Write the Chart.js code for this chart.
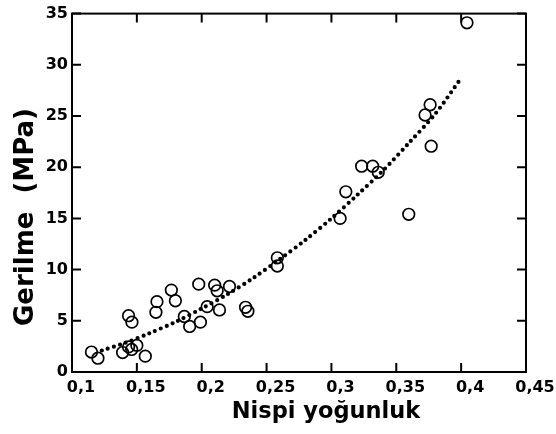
<!DOCTYPE html>
<html>
<head>
<meta charset="utf-8">
<script src="https://cdn.jsdelivr.net/npm/chart.js@4.4.1/dist/chart.umd.min.js"></script>
<style>
  html, body { margin: 0; padding: 0; background: #fff; }
  #wrap { width: 556px; height: 434px; }
</style>
</head>
<body>
<div id="wrap"><canvas id="chart"></canvas></div>
<script>
// measured points (nispi yogunluk, gerilme MPa)
var pointX = [0.115, 0.120, 0.139, 0.1436, 0.146, 0.150, 0.1565, 0.1436, 0.1462, 0.1655, 0.1647, 0.1766,
              0.1797, 0.1866, 0.1907, 0.1977, 0.199, 0.2042, 0.210, 0.2119, 0.2137, 0.2214, 0.2338, 0.2356,
              0.2583, 0.2583, 0.3067, 0.3111, 0.3233, 0.3318, 0.3361, 0.3596, 0.3722, 0.3761, 0.3769, 0.4045];
var pointY = [1.95, 1.35, 1.9, 2.45, 2.2, 2.6, 1.55, 5.5, 4.87, 6.87, 5.83, 8.0,
              6.96, 5.42, 4.45, 8.58, 4.87, 6.38, 8.48, 7.93, 6.06, 8.35, 6.32, 5.93,
              11.15, 10.35, 15.0, 17.6, 20.1, 20.1, 19.5, 15.4, 25.1, 26.1, 22.05, 34.1];

// dotted fit curve
var curveX = [0.123, 0.14, 0.16, 0.18, 0.2, 0.22, 0.24, 0.26, 0.28, 0.3, 0.32, 0.34, 0.36, 0.38, 0.4];
var curveY = [2.1, 2.8, 3.8, 4.9, 6.2, 7.6, 9.2, 11.0, 12.9, 15.0, 17.3, 19.7, 22.4, 25.2, 28.7];

var xTickLabels = ['0,1', '0,15', '0,2', '0,25', '0,3', '0,35', '0,4', '0,45'];
var yTickLabels = ['0', '5', '10', '15', '20', '25', '30', '35'];

var xTitle = 'Nispi yoğunluk';
var yTitle = 'Gerilme  (MPa)';

var pts = [];
for (i = 0; i < pointX.length; i++) {
    pts.push({x: pointX[i], y: pointY[i]});
}
var curve = [];
for (i = 0; i < curveX.length; i++) {
    curve.push({x: curveX[i], y: curveY[i]});
}

// frame, inward ticks on all 4 sides, and the axis titles
var framePlugin = {
    id: 'frame',
    afterDraw: function(chart) {
        var ctx = chart.ctx;
        var a = chart.chartArea;
        var xs = chart.scales.x, ys = chart.scales.y;
        var len = 9;
        ctx.save();
        ctx.strokeStyle = '#000';
        ctx.lineWidth = 2;
        ctx.strokeRect(a.left, a.top, a.right - a.left, a.bottom - a.top);
        ctx.beginPath();
        xs.ticks.forEach(function(t) {
            var px = xs.getPixelForValue(t.value);
            ctx.moveTo(px, a.bottom); ctx.lineTo(px, a.bottom - len);
            ctx.moveTo(px, a.top); ctx.lineTo(px, a.top + len);
        });
        ys.ticks.forEach(function(t) {
            var py = ys.getPixelForValue(t.value);
            ctx.moveTo(a.left, py); ctx.lineTo(a.left + len, py);
            ctx.moveTo(a.right, py); ctx.lineTo(a.right - len, py);
        });
        ctx.stroke();

        ctx.fillStyle = '#000';
        ctx.font = 'bold 22.5px "DejaVu Sans"';
        ctx.textAlign = 'center';
        ctx.textBaseline = 'alphabetic';
        ctx.fillText(xTitle, 326, 418);

        ctx.translate(33, 217);
        ctx.rotate(-Math.PI / 2);
        ctx.font = 'bold 26px "DejaVu Sans"';
        ctx.fillText(yTitle, 0, 0);
        ctx.restore();
    }
};

var tickFont = {family: 'DejaVu Sans', size: 16, weight: 'bold'};

new Chart(document.getElementById('chart').getContext('2d'), {
    type: 'scatter',
    data: {
        datasets: [
            {
                label: 'fit',
                data: curve,
                showLine: true,
                pointRadius: 0,
                borderColor: '#000',
                borderWidth: 4.2,
                borderDash: [0, 6.3],
                borderCapStyle: 'round',
                tension: 0.3,
                fill: false,
                clip: false
            },
            {
                label: 'data',
                data: pts,
                pointRadius: 5.8,
                pointBorderWidth: 1.7,
                pointBorderColor: '#000',
                pointBackgroundColor: 'rgba(0,0,0,0)',
                clip: false
            }
        ]
    },
    options: {
        responsive: true,
        maintainAspectRatio: false,
        animation: false,
        layout: {padding: {left: 0, right: 30, top: 10, bottom: 0}},
        plugins: {
            legend: false,
            tooltip: {enabled: false}
        },
        scales: {
            x: {
                type: 'linear',
                min: 0.1,
                max: 0.45,
                grid: {display: false, drawTicks: false},
                border: {display: false},
                ticks: {
                    stepSize: 0.05,
                    color: '#000',
                    font: tickFont,
                    padding: 6,
                    labelOffset: 9,
                    maxRotation: 0,
                    callback: function(v, i) { return xTickLabels[i]; }
                },
                afterFit: function(s) { s.height = 62; }
            },
            y: {
                min: 0,
                max: 35,
                grid: {display: false, drawTicks: false},
                border: {display: false},
                ticks: {
                    stepSize: 5,
                    color: '#000',
                    font: tickFont,
                    padding: 4,
                    callback: function(v, i) { return yTickLabels[i]; }
                },
                afterFit: function(s) { s.width = 72; }
            }
        }
    },
    plugins: [framePlugin]
});
</script>
</body>
</html>
